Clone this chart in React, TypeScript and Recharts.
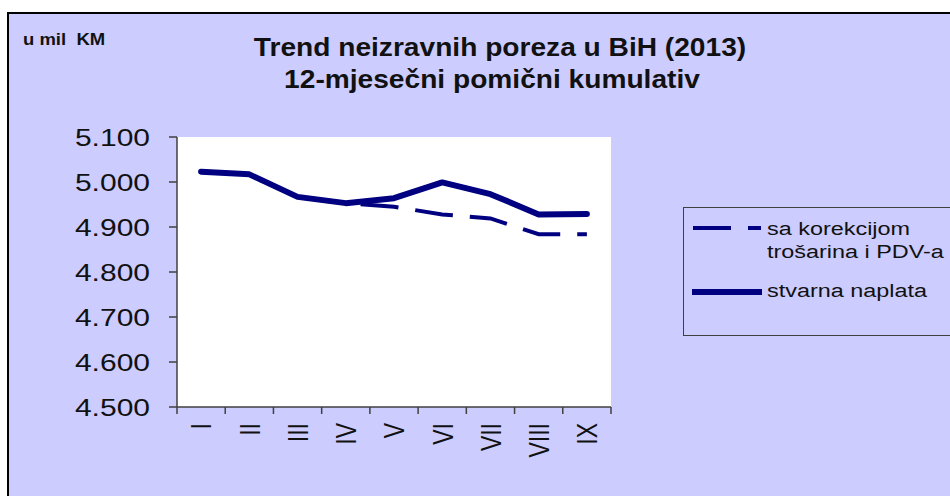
import { CartesianGrid, Line, LineChart, XAxis, YAxis } from "recharts"

const months = ["I", "II", "III", "IV", "V", "VI", "VII", "VIII", "IX"]
// u mil KM, 12-month rolling cumulative
const saKorekcijom = [5023, 5017, 4967, 4953, 4945, 4928, 4919, 4884, 4884]
const stvarnaNaplata = [5023, 5017, 4967, 4953, 4964, 4999, 4973, 4928, 4929]
const yTicks = [4500, 4600, 4700, 4800, 4900, 5000, 5100]

const seriesNames = {
  korekcija: ["sa korekcijom", "trošarina i PDV-a"],
  stvarna: ["stvarna naplata"],
}

const NAVY = "#000080"
const BG = "#CCCCFF"
const AXIS = "#404040"
const FONT = '"Liberation Sans", Arial, sans-serif'

const W = 950
const H = 496
const MARGIN = { top: 137, right: 339, bottom: 0, left: 0 }
const Y_AXIS_W = 177
const X_AXIS_H = 89
const PLOT_W = W - MARGIN.right - Y_AXIS_W

const chartData = months.map((m, i) => ({
  pos: i + 0.5,
  month: m,
  korekcija: saKorekcijom[i],
  stvarna: stvarnaNaplata[i],
}))
const boundaries = [...months.map((_, i) => i), months.length]

const formatThousands = (v: number) => {
  const whole = Math.floor(v / 1000)
  const rest = String(v % 1000).padStart(3, "0")
  return `${whole}.${rest}`
}

function YTick(props: any) {
  const { x, y, payload } = props
  return (
    <g transform={`translate(${x},${y}) scale(1.25,1)`}>
      <text x={0} y={0} dy="0.36em" textAnchor="end" fontSize={24} fontFamily={FONT} fill="#111">
        {formatThousands(payload.value)}
      </text>
    </g>
  )
}

function MonthTick(props: any) {
  const { x, y, payload } = props
  const label = months[payload.value]
  if (!label) return <g />
  const half = PLOT_W / months.length / 2
  return (
    <g transform={`translate(${x + half},${y + 6}) scale(1.25,1) rotate(-90)`}>
      <text x={0} y={0} dy="0.36em" textAnchor="end" fontSize={23} fontFamily={FONT} fill="#111">
        {label}
      </text>
    </g>
  )
}

function LegendBox() {
  return (
    <div
      style={{
        position: "absolute",
        left: 683,
        top: 207,
        width: 290,
        height: 129,
        border: `1.5px solid ${AXIS}`,
        boxSizing: "border-box",
      }}
    >
      <svg width={70} height={120} style={{ position: "absolute", left: 8, top: 0 }}>
        <line x1={1} y1={20} x2={69} y2={20} stroke={NAVY} strokeWidth={4} strokeDasharray="38 17" />
        <line x1={1} y1={84} x2={69} y2={84} stroke={NAVY} strokeWidth={6} strokeLinecap="round" />
      </svg>
      <div style={{ position: "absolute", left: 83, top: 10, fontSize: 18, lineHeight: "23px", transform: "scaleX(1.3)", transformOrigin: "left", whiteSpace: "nowrap" }}>
        {seriesNames.korekcija.map((t) => (
          <div key={t}>{t}</div>
        ))}
      </div>
      <div style={{ position: "absolute", left: 83, top: 72, fontSize: 18, lineHeight: "23px", transform: "scaleX(1.3)", transformOrigin: "left", whiteSpace: "nowrap" }}>
        {seriesNames.stvarna.map((t) => (
          <div key={t}>{t}</div>
        ))}
      </div>
    </div>
  )
}

export default function App() {
  return (
    <div style={{ position: "absolute", left: 0, top: 0, width: W, height: H, background: "#fff", overflow: "hidden", fontFamily: FONT, color: "#111" }}>
      <div
        style={{
          position: "absolute",
          left: 7,
          top: 12,
          width: W,
          height: H,
          background: BG,
          borderTop: "2px solid #000",
          borderLeft: "2px solid #000",
        }}
      />
      <div style={{ position: "absolute", left: 23, top: 29, fontSize: 16.5, lineHeight: "20px", fontWeight: "bold", whiteSpace: "pre", transform: "scaleX(1.12)", transformOrigin: "left" }}>
        u mil  KM
      </div>
      <div style={{ position: "absolute", left: 200, top: 32, width: 600, textAlign: "center", fontSize: 25, lineHeight: "30px", fontWeight: "bold", transform: "scaleX(1.125)", whiteSpace: "nowrap" }}>
        Trend neizravnih poreza u BiH (2013)
      </div>
      <div style={{ position: "absolute", left: 192, top: 64, width: 600, textAlign: "center", fontSize: 25, lineHeight: "30px", fontWeight: "bold", transform: "scaleX(1.125)", whiteSpace: "nowrap" }}>
        12-mjesečni pomični kumulativ
      </div>
      <LineChart width={W} height={H} data={chartData} margin={MARGIN} style={{ position: "absolute", left: 0, top: 0 }}>
        <CartesianGrid horizontal={false} vertical={false} fill="#fff" stroke="none" />
        <XAxis
          dataKey="pos"
          type="number"
          domain={[0, months.length]}
          ticks={boundaries}
          interval={0}
          height={X_AXIS_H}
          tickSize={7}
          tickMargin={3}
          axisLine={{ stroke: AXIS, strokeWidth: 1.5 }}
          tickLine={{ stroke: AXIS, strokeWidth: 1.5 }}
          tick={(p: any) => <MonthTick {...p} />}
        />
        <YAxis
          type="number"
          domain={[4500, 5100]}
          ticks={yTicks}
          interval={0}
          width={Y_AXIS_W}
          tickSize={8}
          tickMargin={19}
          axisLine={{ stroke: AXIS, strokeWidth: 1.5 }}
          tickLine={{ stroke: AXIS, strokeWidth: 1.5 }}
          tick={(p: any) => <YTick {...p} />}
        />
        <Line
          type="linear"
          dataKey="korekcija"
          name={seriesNames.korekcija.join(" ")}
          stroke={NAVY}
          strokeWidth={4}
          strokeDasharray="38 17"
          dot={false}
          isAnimationActive={false}
        />
        <Line
          type="linear"
          dataKey="stvarna"
          name={seriesNames.stvarna[0]}
          stroke={NAVY}
          strokeWidth={6}
          strokeLinejoin="round"
          strokeLinecap="round"
          dot={false}
          isAnimationActive={false}
        />
      </LineChart>
      <LegendBox />
    </div>
  )
}
